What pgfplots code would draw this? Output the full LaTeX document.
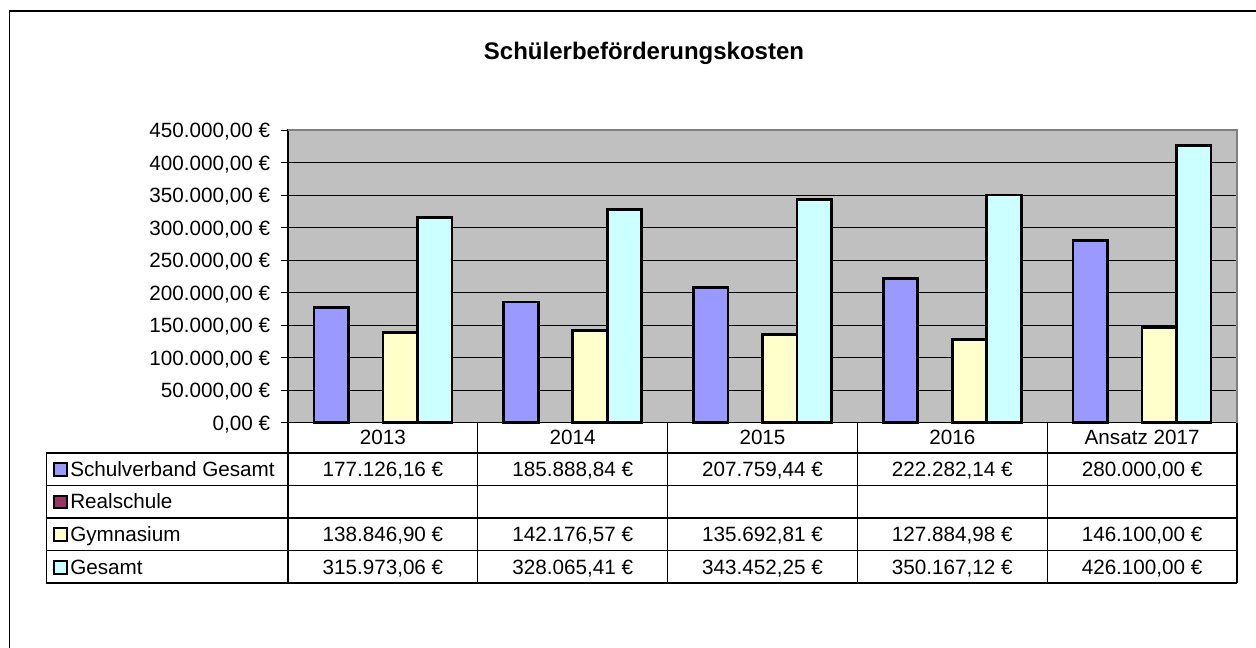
\documentclass[border=0pt]{standalone}
\usepackage{fontspec}
\setmainfont{Liberation Sans}
\usepackage{pgfplots}
\pgfplotsset{compat=1.18}
\definecolor{schul}{HTML}{9999FF}
\definecolor{real}{HTML}{993366}
\definecolor{gym}{HTML}{FFFFCC}
\definecolor{ges}{HTML}{CCFFFF}
\definecolor{chartgray}{HTML}{C0C0C0}
\definecolor{framegray}{HTML}{808080}
\newcommand{\tf}{\fontsize{15.5}{18}\selectfont}
\newcommand{\titlef}{\fontsize{18}{21}\selectfont\bfseries}
\begin{document}
\begin{tikzpicture}
\useasboundingbox (-216pt,317.025pt) rectangle (726pt,-168.975pt);
\begin{axis}[
  at={(0,0)}, anchor=south west,
  scale only axis, width=711.75pt, height=219.375pt,
  xmin=-0.5, xmax=4.5, ymin=0, ymax=450000,
  xtick=\empty,
  ytick={0,50000,100000,150000,200000,250000,300000,350000,400000,450000},
  yticklabels={{0,00 €},{50.000,00 €},{100.000,00 €},{150.000,00 €},{200.000,00 €},{250.000,00 €},{300.000,00 €},{350.000,00 €},{400.000,00 €},{450.000,00 €}},
  ytick pos=left,
  tick align=outside, major tick length=5.25pt,
  every tick/.style={black, line width=0.9pt},
  ymajorgrids, grid style={black, line width=0.8pt},
  axis line style={black, line width=1.1pt},
  axis background/.style={fill=chartgray},
  ybar, bar width=25.875pt,
  clip=false,
  scaled y ticks=false,
  yticklabel style={font=\tf, anchor=base east, inner sep=0pt, xshift=-8pt, yshift=-5.5pt},
]
\addplot[fill=schul, draw=black, line width=2pt, bar shift=-38.8125pt] coordinates {(0,177126.16) (1,185888.84) (2,207759.44) (3,222282.14) (4,280000.00)};
\addplot[fill=gym, draw=black, line width=2pt, bar shift=12.9375pt] coordinates {(0,138846.90) (1,142176.57) (2,135692.81) (3,127884.98) (4,146100.00)};
\addplot[fill=ges, draw=black, line width=2pt, bar shift=38.8125pt] coordinates {(0,315973.06) (1,328065.41) (2,343452.25) (3,350167.12) (4,426100.00)};
\draw[framegray, line width=1.5pt] (rel axis cs:0,1) -- (rel axis cs:1,1) -- (rel axis cs:1,0);
\end{axis}
\begin{scope}[x=0.75pt,y=-0.75pt,shift={(-288,-422.7)}]
% outer frame
\draw[black, line width=0.9pt] (9.5,648) -- (9.5,11) -- (1256,11);
% title
\node[anchor=base, font=\titlef, inner sep=0pt] at (644,59.5) {Schülerbeförderungskosten};
% table lines
\foreach \cx in {288,477.8,667.6,857.4,1047.2,1237}
  \draw[black, line width=0.8pt] (\cx,422.7) -- (\cx,583);
\draw[black, line width=0.8pt] (46.5,453) -- (46.5,583);
\foreach \ry in {453,485.5,518,550.5,583}
  \draw[black, line width=0.8pt] (46.5,\ry) -- (1237,\ry);
% header
\foreach \cx/\lab in {382.9/2013, 572.7/2014, 762.5/2015, 952.3/2016, 1142.1/Ansatz 2017}
  \node[anchor=base, font=\tf, inner sep=0pt] at (\cx,444.5) {\lab};
% legend keys and row labels
\foreach \cy/\col/\lab in {469.5/schul/Schulverband Gesamt, 502/real/Realschule, 534.5/gym/Gymnasium, 567.5/ges/Gesamt}{
  \draw[fill=\col, draw=black, line width=1.5pt] (54.5,\cy-6.3) rectangle (67.5,\cy+6.3);
  \node[anchor=base west, font=\tf, inner sep=0pt] at (70,\cy+7) {\lab};
}
% values
\foreach \cx/\a/\b/\c in {382.9/{177.126,16}/{138.846,90}/{315.973,06}, 572.7/{185.888,84}/{142.176,57}/{328.065,41}, 762.5/{207.759,44}/{135.692,81}/{343.452,25}, 952.3/{222.282,14}/{127.884,98}/{350.167,12}, 1142.1/{280.000,00}/{146.100,00}/{426.100,00}}{
  \node[anchor=base, font=\tf, inner sep=0pt] at (\cx,476.5) {\a~€};
  \node[anchor=base, font=\tf, inner sep=0pt] at (\cx,541.5) {\b~€};
  \node[anchor=base, font=\tf, inner sep=0pt] at (\cx,575) {\c~€};
}
\end{scope}
\end{tikzpicture}
\end{document}
